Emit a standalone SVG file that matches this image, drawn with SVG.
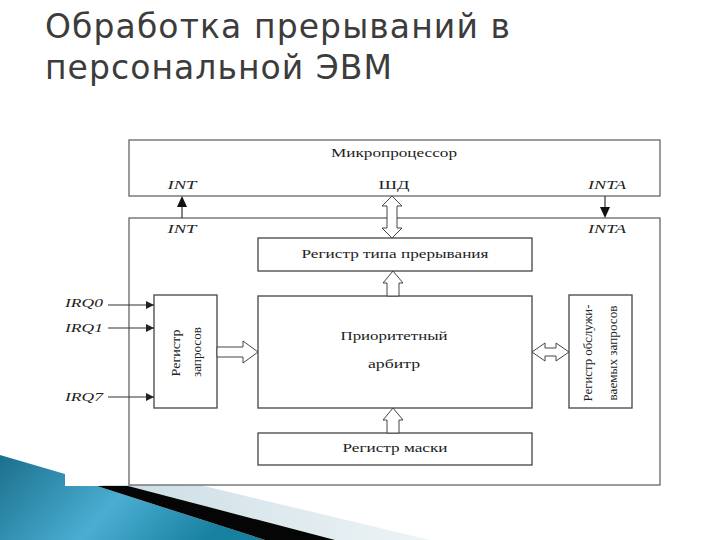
<svg xmlns="http://www.w3.org/2000/svg" width="720" height="540" viewBox="0 0 720 540">
<style>
.box{fill:#fff;stroke:#444;stroke-width:1.3}
.outer{fill:#fff;stroke:#666;stroke-width:1.3}
.t{font-family:"Liberation Serif","Times New Roman",serif;font-size:13px;fill:#222}
.ti{font-family:"Liberation Serif","Times New Roman",serif;font-size:12px;font-style:italic;fill:#222}
.hollow{fill:#fff;stroke:#444;stroke-width:1}
.ln{stroke:#333;stroke-width:1.2;fill:none}
.title{font-family:"DejaVu Sans","Open Sans",sans-serif;font-size:33px;fill:#3c3c3c}
</style>
<defs>
<marker id="ah" viewBox="0 0 10 10" refX="10" refY="5" markerWidth="10" markerHeight="8" markerUnits="userSpaceOnUse" orient="auto">
<path d="M0,0 L10,5 L0,10 z" fill="#222"/>
</marker>
<linearGradient id="blue" x1="0" y1="0" x2="1" y2="0.3">
<stop offset="0" stop-color="#1b6f8c"/>
<stop offset="0.55" stop-color="#4aaed2"/>
<stop offset="1" stop-color="#177f9f"/>
</linearGradient>
<linearGradient id="light" x1="0" y1="0" x2="1" y2="0">
<stop offset="0" stop-color="#c9dce4"/>
<stop offset="1" stop-color="#eef4f6"/>
</linearGradient>
</defs>
<rect width="720" height="540" fill="#fff"/>

<g id="decoration">
<polygon points="100,485 200,485 430,540 330,540" fill="url(#light)"/>
<polygon points="0,455 65,474 65,486 97,486 265,540 0,540" fill="url(#blue)"/>
<polygon points="97,486 128,486 335,540 265,540" fill="#050505"/>
</g>

<g id="title">
<text class="title"><tspan x="45" y="38" textLength="465" lengthAdjust="spacing">Обработка прерываний в</tspan><tspan x="45" y="79" textLength="347" lengthAdjust="spacing">персональной ЭВМ</tspan></text>
</g>

<g id="microprocessor">
<rect class="outer" x="129" y="140" width="531" height="56"/>
<text class="t" x="394" y="157" text-anchor="middle" textLength="126" lengthAdjust="spacingAndGlyphs">Микропроцессор</text>
<text class="ti" x="182" y="189" text-anchor="middle" textLength="29" lengthAdjust="spacingAndGlyphs">INT</text>
<text class="t" x="394" y="189" text-anchor="middle" textLength="31" lengthAdjust="spacingAndGlyphs">ШД</text>
<text class="ti" x="607" y="189" text-anchor="middle" textLength="38" lengthAdjust="spacingAndGlyphs">INTA</text>
</g>

<g id="controller">
<rect class="outer" x="129" y="218" width="531" height="267"/>
<text class="ti" x="182" y="233" text-anchor="middle" textLength="29" lengthAdjust="spacingAndGlyphs">INT</text>
<text class="ti" x="607" y="233" text-anchor="middle" textLength="38" lengthAdjust="spacingAndGlyphs">INTA</text>
</g>

<g id="type-register">
<rect class="box" x="258" y="238" width="274" height="33"/>
<text class="t" x="395" y="258" text-anchor="middle" textLength="187" lengthAdjust="spacingAndGlyphs">Регистр типа прерывания</text>
</g>

<g id="arbiter">
<rect class="box" x="258" y="296" width="274" height="112"/>
<text class="t" x="394" y="340" text-anchor="middle" textLength="107" lengthAdjust="spacingAndGlyphs">Приоритетный</text>
<text class="t" x="394" y="368" text-anchor="middle" textLength="52" lengthAdjust="spacingAndGlyphs">арбитр</text>
</g>

<g id="mask-register">
<rect class="box" x="258" y="433" width="274" height="32"/>
<text class="t" x="395" y="452" text-anchor="middle" textLength="105" lengthAdjust="spacingAndGlyphs">Регистр маски</text>
</g>

<g id="request-register">
<rect class="box" x="154" y="295" width="63" height="113"/>
<text class="t" transform="translate(180,353) rotate(-90)" text-anchor="middle" textLength="47" lengthAdjust="spacingAndGlyphs">Регистр</text>
<text class="t" transform="translate(201,352) rotate(-90)" text-anchor="middle" font-size="12" textLength="50" lengthAdjust="spacingAndGlyphs">запросов</text>
</g>

<g id="service-register">
<rect class="box" x="569" y="295" width="63" height="113"/>
<text class="t" transform="translate(592,353) rotate(-90)" text-anchor="middle" textLength="97" lengthAdjust="spacingAndGlyphs">Регистр обслужи-</text>
<text class="t" transform="translate(617,353) rotate(-90)" text-anchor="middle" textLength="95" lengthAdjust="spacingAndGlyphs">ваемых запросов</text>
</g>

<g id="irq-labels">
<text class="ti" x="84" y="307" text-anchor="middle" textLength="38" lengthAdjust="spacingAndGlyphs">IRQ0</text>
<text class="ti" x="84" y="332" text-anchor="middle" textLength="38" lengthAdjust="spacingAndGlyphs">IRQ1</text>
<text class="ti" x="84" y="401" text-anchor="middle" textLength="38" lengthAdjust="spacingAndGlyphs">IRQ7</text>
</g>

<g id="connectors">
<line class="ln" x1="108" y1="305" x2="154" y2="305" marker-end="url(#ah)"/>
<line class="ln" x1="108" y1="328" x2="154" y2="328" marker-end="url(#ah)"/>
<line class="ln" x1="108" y1="397" x2="154" y2="397" marker-end="url(#ah)"/>
<line class="ln" x1="182" y1="218" x2="182" y2="205"/>
<polygon points="182,196 177,207 187,207" fill="#111"/>
<line class="ln" x1="605" y1="196" x2="605" y2="209"/>
<polygon points="605,218 600,207 610,207" fill="#111"/>
<polygon class="hollow" points="392,196 402,206 397,206 397,228 402,228 392,238 382,228 387,228 387,206 382,206"/>
<polygon class="hollow" points="393,271 403,283 399,283 399,296 387,296 387,283 383,283"/>
<polygon class="hollow" points="393,408 403,420 399,420 399,433 387,433 387,420 383,420"/>
<polygon class="hollow" points="217,347 243,347 243,341 258,352 243,363 243,357 217,357"/>
<polygon class="hollow" points="532,352 545,343 545,348 556,348 556,343 569,352 556,361 556,356 545,356 545,361"/>
</g>
</svg>
